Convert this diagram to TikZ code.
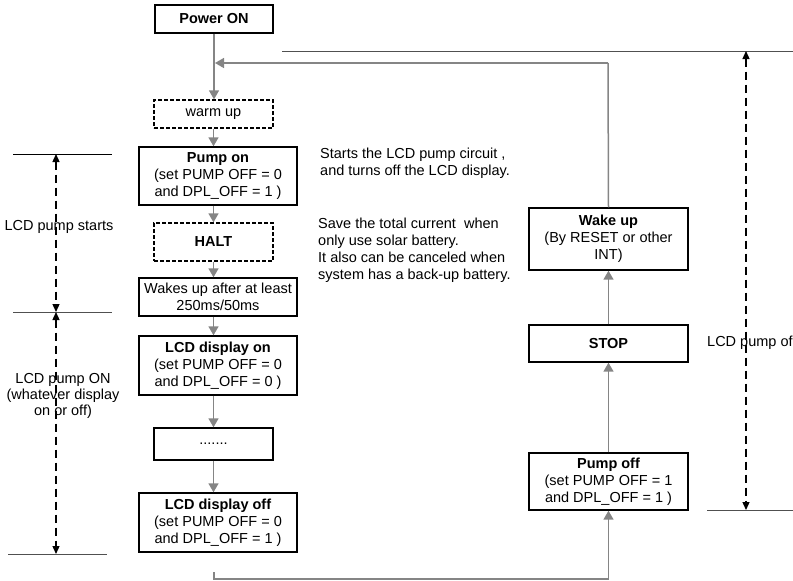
\documentclass[tikz,border=0pt]{standalone}
\usepackage{fontspec}
\setmainfont{Liberation Sans}
\usetikzlibrary{arrows.meta}
\definecolor{flowgray}{HTML}{858585}
\definecolor{refline}{HTML}{505050}
\begin{document}
\begin{tikzpicture}[x=1pt,y=-1pt,
  every node/.style={font=\fontsize{14.5}{17}\selectfont, inner sep=0pt},
  box/.style={draw=black, line width=1.4pt, align=center, minimum width=158pt},
  dbox/.style={draw=black, line width=1.3pt, dash pattern=on 4pt off 2pt, align=center, minimum width=119pt},
  flow/.style={draw=flowgray, line width=1.5pt, -{Triangle[length=9pt,width=10pt]}},
  flowline/.style={draw=flowgray, line width=1.5pt},
  dim/.style={draw=black, line width=1.3pt, dash pattern=on 8pt off 5pt, {Triangle[length=8pt,width=7pt]}-{Triangle[length=8pt,width=7pt]}},
  limit/.style={draw=refline, line width=1pt}
]
\useasboundingbox (0,0) rectangle (793,581);

% left column
\node[box, minimum width=118pt, minimum height=28pt] (pon) at (214,19) {\textbf{Power ON}};
\node[dbox, minimum height=28pt] (warm) at (213.5,114) {warm up};
\node[box, minimum height=58pt] (pumpon) at (218,176) {\textbf{Pump on}\\(set PUMP OFF = 0\\and DPL\_OFF = 1 )};
\node[dbox, minimum height=38pt] (halt) at (213.5,242) {\textbf{HALT}};
\node[box, minimum height=38pt] (wakes) at (218,297) {Wakes up after at least\\250ms/50ms};
\node[box, minimum height=59pt] (dispon) at (218,365.5) {\textbf{LCD display on}\\(set PUMP OFF = 0\\and DPL\_OFF = 0 )};
\node[box, minimum width=119pt, minimum height=32pt] (dots) at (213.5,444) {.......};
\node[box, minimum height=59pt] (dispoff) at (218,522.5) {\textbf{LCD display off}\\(set PUMP OFF = 0\\and DPL\_OFF = 1 )};

% right column
\node[box, minimum width=159pt, minimum height=57pt] (pumpoff) at (608.5,481.5) {\textbf{Pump off}\\(set PUMP OFF = 1\\and DPL\_OFF = 1 )};
\node[box, minimum width=159pt, minimum height=37pt] (stop) at (608.5,343.5) {\textbf{STOP}};
\node[box, minimum width=159pt, minimum height=62pt] (wakeup) at (608.5,239) {\textbf{Wake up}\\(By RESET or other\\INT)};

% flow arrows, left column
\draw[flow] (pon.south) -- (pon.south |- warm.north);
\draw[flow] (warm.south) -- (warm.south |- pumpon.north);
\draw[flow] (halt.north |- pumpon.south) -- (halt.north);
\draw[flow] (halt.south) -- (halt.south |- wakes.north);
\draw[flow] (halt.south |- wakes.south) -- (halt.south |- dispon.north);
\draw[flow] (dots.north |- dispon.south) -- (dots.north);
\draw[flow] (dots.south) -- (dots.south |- dispoff.north);

% right column arrows
\draw[flow] (stop.north) -- (wakeup.south);
\draw[flow] (pumpoff.north) -- (stop.south);

% loop back from Wake up
\coordinate (fbcorner) at (608,63);
\coordinate (fbend) at (215,63);
\draw[flowline] (wakeup.north) -- (fbcorner);
\draw[flow] (fbcorner) -- (fbend);

% bottom link to Pump off
\coordinate (botstart) at (214,572);
\coordinate (botcorner) at (214,579);
\draw[flow] (botstart) -- (botcorner) -| (pumpoff.south);

% left dimension
\coordinate (l1a) at (13,154); \coordinate (l1b) at (112,154);
\coordinate (l2a) at (13,312); \coordinate (l2b) at (112,312);
\coordinate (l3a) at (8,554);  \coordinate (l3b) at (107,554);
\draw[limit, draw=black] (l1a) -- (l1b);
\draw[limit] (l2a) -- (l2b);
\draw[limit] (l3a) -- (l3b);
\coordinate (d1) at (56,154); \coordinate (d2) at (56,312); \coordinate (d3) at (56,554);
\draw[dim] (d1) -- (d2);
\draw[dim] (d2) -- (d3);
\node (lstart) at (59,227) {LCD pump starts};
\node[align=center, font=\fontsize{14.5}{16}\selectfont] (lon) at (63,396) {LCD pump ON\\(whatever display\\on or off)};

% right dimension
\coordinate (r1a) at (282,51); \coordinate (r1b) at (793,51);
\coordinate (r2a) at (707,510); \coordinate (r2b) at (793,510);
\draw[limit] (r1a) -- (r1b);
\draw[limit] (r2a) -- (r2b);
\coordinate (e1) at (746,51); \coordinate (e2) at (746,510);
\draw[dim] (e1) -- (e2);
\node[anchor=west] (roff) at (707,343) {LCD pump of};

% notes
\node[anchor=west, align=left] (note1) at (320,163.5) {Starts the LCD pump circuit ,\\and turns off the LCD display.};
\node[anchor=west, align=left] (note2) at (318,250) {Save the total current\ \ when\\only use solar battery.\\It also can be canceled when\\system has a back-up battery.};
\end{tikzpicture}
\end{document}
